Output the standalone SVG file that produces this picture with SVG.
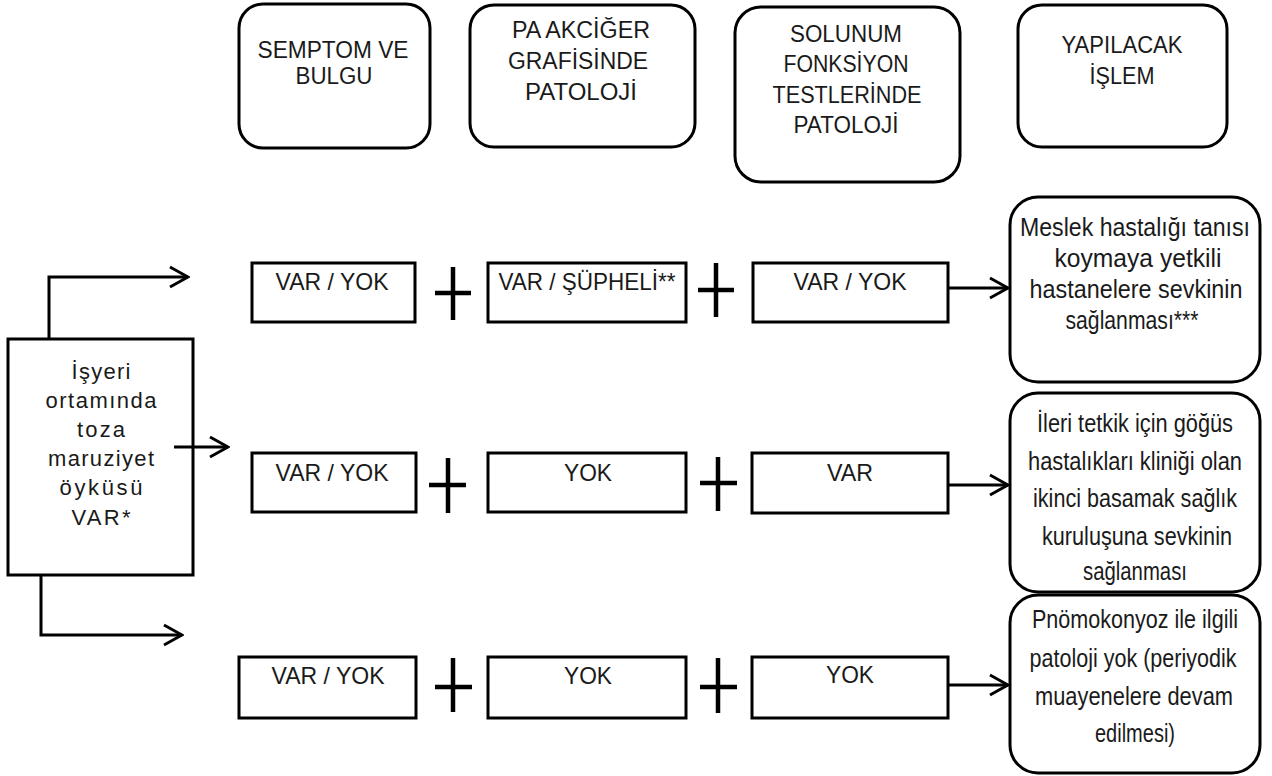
<svg xmlns="http://www.w3.org/2000/svg" width="1272" height="776" viewBox="0 0 1272 776">
<style>
.b{fill:#fff;stroke:#000;stroke-width:3}
.t{font-family:"Liberation Sans",Arial,sans-serif;font-size:22px;fill:#1a1a1a;text-anchor:middle}
.h{font-family:"Liberation Sans",Arial,sans-serif;font-size:23px;fill:#1a1a1a;text-anchor:middle}
.r{font-family:"Liberation Sans",Arial,sans-serif;font-size:24px;fill:#1a1a1a;text-anchor:middle}
.o{font-family:"Liberation Sans",Arial,sans-serif;font-size:25px;fill:#1a1a1a;text-anchor:middle}
.c{fill:none;stroke:#000;stroke-width:3}
.p{stroke:#000;stroke-width:4.5;fill:none}
</style>
<defs>
<marker id="ar" viewBox="0 0 22 24" refX="20" refY="12" markerWidth="22" markerHeight="24" markerUnits="userSpaceOnUse" orient="auto">
<path d="M2,2 L20,12 L2,22" fill="none" stroke="#000" stroke-width="3"/>
</marker>
</defs>
<rect width="1272" height="776" fill="#fff"/>
<g id="h1"><rect class="b" x="239" y="4" width="191" height="144" rx="24"/>
<text class="h" x="333" y="58" textLength="151" lengthAdjust="spacingAndGlyphs">SEMPTOM VE</text><text class="h" x="334" y="84" textLength="77" lengthAdjust="spacingAndGlyphs">BULGU</text></g>
<g id="h2"><rect class="b" x="470" y="5" width="225" height="142" rx="24"/>
<text class="h" x="581" y="38" textLength="138" lengthAdjust="spacingAndGlyphs">PA AKCİĞER</text><text class="h" x="578" y="69" textLength="140" lengthAdjust="spacingAndGlyphs">GRAFİSİNDE</text><text class="h" x="581" y="100" textLength="112" lengthAdjust="spacingAndGlyphs">PATOLOJİ</text></g>
<g id="h3"><rect class="b" x="735" y="7" width="225" height="175" rx="26"/>
<text class="h" x="846" y="42" textLength="112" lengthAdjust="spacingAndGlyphs">SOLUNUM</text><text class="h" x="846" y="72" textLength="125" lengthAdjust="spacingAndGlyphs">FONKSİYON</text><text class="h" x="847" y="103" textLength="149" lengthAdjust="spacingAndGlyphs">TESTLERİNDE</text><text class="h" x="846" y="133" textLength="105" lengthAdjust="spacingAndGlyphs">PATOLOJİ</text></g>
<g id="h4"><rect class="b" x="1018" y="5" width="209" height="142" rx="24"/>
<text class="h" x="1122" y="53" textLength="121" lengthAdjust="spacingAndGlyphs">YAPILACAK</text><text class="h" x="1122" y="84" textLength="65" lengthAdjust="spacingAndGlyphs">İŞLEM</text></g>

<g id="start"><rect class="b" x="8" y="339" width="185" height="236"/>
<text class="t" x="101" y="379" textLength="59" lengthAdjust="spacing">İşyeri</text>
<text class="t" x="101" y="408" textLength="111" lengthAdjust="spacing">ortamında</text>
<text class="t" x="101" y="437" textLength="48" lengthAdjust="spacing">toza</text>
<text class="t" x="101" y="466" textLength="106" lengthAdjust="spacing">maruziyet</text>
<text class="t" x="101" y="495" textLength="83" lengthAdjust="spacing">öyküsü</text>
<text class="t" x="101" y="525" textLength="59" lengthAdjust="spacing">VAR*</text></g>

<g id="r1a"><rect class="b" x="252" y="263" width="163" height="59"/><text class="r" x="332" y="290" textLength="113" lengthAdjust="spacingAndGlyphs">VAR / YOK</text></g>
<g id="r1b"><rect class="b" x="488" y="263" width="198" height="59"/><text class="r" x="587" y="290" textLength="177" lengthAdjust="spacingAndGlyphs">VAR / ŞÜPHELİ**</text></g>
<g id="r1c"><rect class="b" x="753" y="263" width="195" height="59"/><text class="r" x="850" y="290" textLength="113" lengthAdjust="spacingAndGlyphs">VAR / YOK</text></g>
<g id="r2a"><rect class="b" x="252" y="453" width="164" height="59"/><text class="r" x="332" y="481" textLength="113" lengthAdjust="spacingAndGlyphs">VAR / YOK</text></g>
<g id="r2b"><rect class="b" x="488" y="453" width="198" height="59"/><text class="r" x="588" y="481" textLength="48" lengthAdjust="spacingAndGlyphs">YOK</text></g>
<g id="r2c"><rect class="b" x="752" y="453" width="196" height="60"/><text class="r" x="850" y="481" textLength="46" lengthAdjust="spacingAndGlyphs">VAR</text></g>
<g id="r3a"><rect class="b" x="239" y="657" width="177" height="61"/><text class="r" x="328" y="684" textLength="113" lengthAdjust="spacingAndGlyphs">VAR / YOK</text></g>
<g id="r3b"><rect class="b" x="488" y="657" width="198" height="61"/><text class="r" x="588" y="684" textLength="48" lengthAdjust="spacingAndGlyphs">YOK</text></g>
<g id="r3c"><rect class="b" x="752" y="657" width="196" height="61"/><text class="r" x="850" y="683" textLength="48" lengthAdjust="spacingAndGlyphs">YOK</text></g>

<g id="o1"><rect class="b" x="1010" y="197" width="250" height="185" rx="28"/>
<text class="o" x="1135" y="236" textLength="230" lengthAdjust="spacingAndGlyphs">Meslek  hastalığı  tanısı</text>
<text class="o" x="1138" y="267" textLength="167" lengthAdjust="spacingAndGlyphs">koymaya yetkili</text>
<text class="o" x="1136" y="298" textLength="213" lengthAdjust="spacingAndGlyphs">hastanelere  sevkinin</text>
<text class="o" x="1132" y="329" textLength="133" lengthAdjust="spacingAndGlyphs">sağlanması***</text></g>
<g id="o2"><rect class="b" x="1010" y="393" width="250" height="199" rx="28"/>
<text class="o" x="1135" y="432" textLength="196" lengthAdjust="spacingAndGlyphs">İleri  tetkik  için  göğüs</text>
<text class="o" x="1135" y="470" textLength="214" lengthAdjust="spacingAndGlyphs">hastalıkları  kliniği  olan</text>
<text class="o" x="1135" y="507" textLength="204" lengthAdjust="spacingAndGlyphs">ikinci basamak  sağlık</text>
<text class="o" x="1137" y="545" textLength="190" lengthAdjust="spacingAndGlyphs">kuruluşuna  sevkinin</text>
<text class="o" x="1135" y="580" textLength="104" lengthAdjust="spacingAndGlyphs">sağlanması</text></g>
<g id="o3"><rect class="b" x="1010" y="595" width="250" height="178" rx="28"/>
<text class="o" x="1135" y="628" textLength="206" lengthAdjust="spacingAndGlyphs">Pnömokonyoz  ile  ilgili</text>
<text class="o" x="1133" y="667" textLength="207" lengthAdjust="spacingAndGlyphs">patoloji  yok (periyodik</text>
<text class="o" x="1134" y="705" textLength="198" lengthAdjust="spacingAndGlyphs">muayenelere  devam</text>
<text class="o" x="1135" y="742" textLength="80" lengthAdjust="spacingAndGlyphs">edilmesi)</text></g>

<g id="plus">
<path class="p" d="M453,267 V320 M435,293 H471"/>
<path class="p" d="M716,263 V317 M698,290 H734"/>
<path class="p" d="M448,458 V513 M429,485 H466"/>
<path class="p" d="M718,457 V511 M700,483 H737"/>
<path class="p" d="M453,658 V712 M435,687 H472"/>
<path class="p" d="M718,658 V713 M700,687 H737"/>
</g>

<g id="connectors">
<path class="c" d="M49,339 V277 H188" marker-end="url(#ar)"/>
<path class="c" d="M174,447 H228" marker-end="url(#ar)"/>
<path class="c" d="M41,575 V635 H182" marker-end="url(#ar)"/>
<path class="c" d="M948,288 H1008" marker-end="url(#ar)"/>
<path class="c" d="M948,485 H1008" marker-end="url(#ar)"/>
<path class="c" d="M948,685 H1008" marker-end="url(#ar)"/>
</g>
</svg>
